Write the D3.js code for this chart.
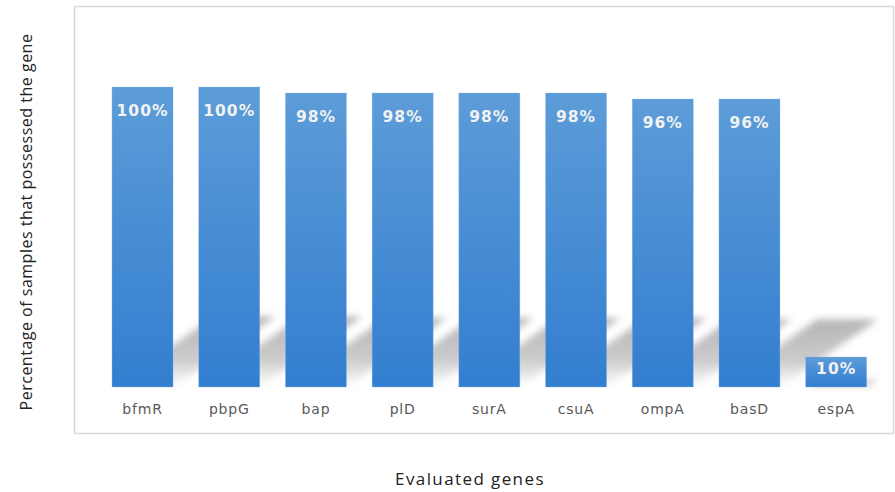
<!DOCTYPE html>
<html>
<head>
<meta charset="utf-8">
<script src="https://cdn.jsdelivr.net/npm/d3@7"></script>
<style>
  html, body { margin: 0; padding: 0; background: #ffffff; }
  svg { display: block; }
</style>
</head>
<body>
<svg id="chart" width="895" height="492"></svg>
<script>
// Gene prevalence among samples
const genes = ["bfmR", "pbpG", "bap", "plD", "surA", "csuA", "ompA", "basD", "espA"];
const percents = [100, 100, 98, 98, 98, 98, 96, 96, 10];
const labelTexts = ["100%", "100%", "98%", "98%", "98%", "98%", "96%", "96%", "10%"];
const yTitle = "Percentage of samples that possessed the gene";
const xTitle = "Evaluated genes";

const svg = d3.select("#chart");

const defs = svg.append("defs");

// bar fill: lighter at the top, deeper blue at the base
const barGrad = defs.append("linearGradient")
  .attr("id", "barGrad").attr("x1", 0).attr("y1", 0).attr("x2", 0).attr("y2", 1);
barGrad.append("stop").attr("offset", "0%").attr("stop-color", "#5c9cd8");
barGrad.append("stop").attr("offset", "100%").attr("stop-color", "#337ed0");

// cast shadow: transparent at the base, grey toward the far end
const shadowGrad = defs.append("linearGradient")
  .attr("id", "shadowGrad").attr("x1", 0).attr("y1", 1).attr("x2", 0).attr("y2", 0);
shadowGrad.append("stop").attr("offset", "0%").attr("stop-color", "#8c8c8c").attr("stop-opacity", 0.0);
shadowGrad.append("stop").attr("offset", "40%").attr("stop-color", "#8c8c8c").attr("stop-opacity", 0.45);
shadowGrad.append("stop").attr("offset", "100%").attr("stop-color", "#8c8c8c").attr("stop-opacity", 0.65);

const blur = defs.append("filter").attr("id", "shadowBlur")
  .attr("x", "-30%").attr("y", "-30%").attr("width", "160%").attr("height", "160%");
blur.append("feGaussianBlur").attr("stdDeviation", 3.5);

// chart frame
svg.append("rect")
  .attr("x", 74.5).attr("y", 6.5)
  .attr("width", 819).attr("height", 427)
  .attr("fill", "#ffffff")
  .attr("stroke", "#d9d9d9").attr("stroke-width", 1.5);

const x = d3.scaleBand()
  .domain(genes)
  .range([86, 892.7])
  .paddingInner(0.296)
  .paddingOuter(0.3);

const y = d3.scaleLinear()
  .domain([0, 100])
  .range([387, 87]);

const data = genes.map((g, i) => ({ gene: g, value: percents[i], label: labelTexts[i] }));

// perspective shadows behind each bar
const shadowG = svg.append("g").attr("filter", "url(#shadowBlur)");
shadowG.selectAll("path")
  .data(data)
  .join("path")
  .attr("d", d => {
    const base = y(0);
    const h = (y(0) - y(d.value)) * 0.235;
    const dx = h * 1.45;
    const x0 = x(d.gene), x1 = x(d.gene) + x.bandwidth();
    return `M${x0},${base}L${x1},${base}L${x1 + dx},${base - h}L${x0 + dx},${base - h}Z`;
  })
  .attr("fill", "url(#shadowGrad)");

// bars
svg.append("g").selectAll("rect")
  .data(data)
  .join("rect")
  .attr("x", d => x(d.gene))
  .attr("y", d => y(d.value))
  .attr("width", x.bandwidth())
  .attr("height", d => y(0) - y(d.value))
  .attr("fill", "url(#barGrad)")
  .attr("stroke", "#8fbde8").attr("stroke-width", 0.6).attr("stroke-opacity", 0.6);

// value labels inside the top of each bar
svg.append("g").selectAll("text")
  .data(data)
  .join("text")
  .attr("x", d => x(d.gene) + x.bandwidth() / 2)
  .attr("y", d => y(d.value) + Math.min(29, (y(0) - y(d.value)) * 0.57))
  .attr("text-anchor", "middle")
  .attr("font-family", "'DejaVu Sans', Verdana, sans-serif")
  .attr("font-weight", "bold")
  .attr("font-size", 15.5)
  .attr("letter-spacing", 1)
  .attr("fill", "#f2f2f2")
  .text(d => d.label);

// category axis
const xAxis = svg.append("g")
  .attr("transform", `translate(0,${y(0)})`)
  .call(d3.axisBottom(x).tickSize(0).tickPadding(17));
xAxis.select(".domain").remove();
xAxis.selectAll("text")
  .attr("font-family", "'DejaVu Sans', Verdana, sans-serif")
  .attr("font-size", 14)
  .attr("letter-spacing", 0.8)
  .attr("fill", "#595959");

// axis titles
svg.append("text")
  .attr("transform", `translate(32,222) rotate(-90)`)
  .attr("text-anchor", "middle")
  .attr("font-family", "'Open Sans', sans-serif")
  .attr("font-size", 16)
  .attr("letter-spacing", 0.5)
  .attr("fill", "#222222")
  .text(yTitle);

svg.append("text")
  .attr("x", 470)
  .attr("y", 485)
  .attr("text-anchor", "middle")
  .attr("font-family", "'Open Sans', sans-serif")
  .attr("font-size", 17)
  .attr("letter-spacing", 1.4)
  .attr("fill", "#222222")
  .text(xTitle);
</script>
</body>
</html>
